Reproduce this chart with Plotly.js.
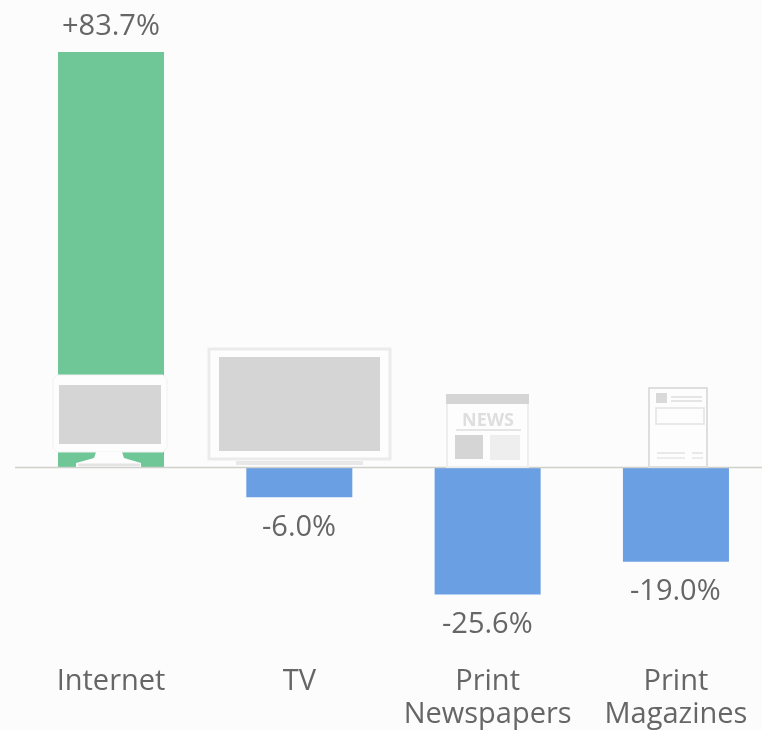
<!DOCTYPE html>
<html>
<head>
<meta charset="utf-8">
<script src="https://cdn.plot.ly/plotly-3.0.1.min.js"></script>
<style>html,body{margin:0;padding:0;background:#fcfcfc;overflow:hidden}#chart{filter:blur(0.7px)}</style>
</head>
<body>
<div id="chart" style="width:762px;height:730px"></div>
<script>
const categories = ["Internet", "TV", "Print<br>Newspapers", "Print<br>Magazines"];
const changes = [83.7, -6.0, -25.6, -19.0];
const labels = ["+83.7%", "-6.0%", "-25.6%", "-19.0%"];
const barColors = ["#6fc697", "#6a9fe4", "#6a9fe4", "#6a9fe4"];

const W = 762, H = 730, PLOT_H = 660;
const px = x => x / W;
const py = y => 1 - y / PLOT_H;
const GRAY = "#d5d5d5", LIGHT = "#ebebeb", WHITE = "#fdfdfd";
const TEXT = "#666666";

function rect(x0, y0, x1, y1, fill, line, lw) {
  return {type: "rect", xref: "paper", yref: "paper", x0: px(x0), x1: px(x1), y0: py(y1), y1: py(y0),
    fillcolor: fill || "rgba(0,0,0,0)", line: {color: line || "rgba(0,0,0,0)", width: lw || 0}, layer: "above"};
}
function seg(x0, y, x1, color, lw) {
  return {type: "line", xref: "paper", yref: "paper", x0: px(x0), x1: px(x1), y0: py(y), y1: py(y),
    line: {color: color, width: lw}, layer: "above"};
}
function path(points, fill, line) {
  const d = points.map((p, i) => (i ? "L" : "M") + px(p[0]) + "," + py(p[1])).join(" ") + " Z";
  return {type: "path", xref: "paper", yref: "paper", path: d, fillcolor: fill,
    line: line ? {color: line, width: 1} : {width: 0}, layer: "above"};
}

const shapes = [
  // baseline
  seg(15, 467.5, 762, "#cfcfcc", 1.5),
  // monitor
  path([[57, 375], [163, 375], [167, 379], [167, 448], [163, 452], [57, 452], [53, 448], [53, 379]], WHITE, "#f1f1f1"),
  rect(59, 385, 161, 444, GRAY),
  path([[96, 452], [122, 452], [124, 458], [141, 463], [141, 467], [76, 467], [76, 463], [94, 458]], WHITE),
  seg(78, 465, 140, "#e4e4e4", 3),
  // TV
  rect(209, 349, 390, 459, WHITE, LIGHT, 3),
  rect(219, 357, 380, 451, GRAY),
  seg(236, 463, 363, "#e8e8e8", 4),
  // newspaper
  rect(447, 395, 528, 467, WHITE, "#eeeeee", 2),
  rect(446, 394, 529, 404, GRAY),
  seg(456, 430, 521, "#dddddd", 1.5),
  rect(455, 435, 483, 459, GRAY),
  rect(490, 435, 520, 460, "#eeeeee"),
  // magazine
  rect(649, 388, 707, 467, WHITE, "#dedede", 2),
  rect(656, 393, 667, 403, "#d9d9d9"),
  seg(671, 397, 702, "#dddddd", 1.5),
  seg(671, 401, 702, "#dddddd", 1.5),
  rect(656, 408, 704, 424, WHITE, "#e2e2e2", 1.5),
  seg(657, 453, 685, "#e2e2e2", 1.5),
  seg(692, 453, 703, "#e2e2e2", 1.5),
  seg(657, 458, 685, "#e6e6e6", 1.5),
  seg(692, 458, 703, "#e6e6e6", 1.5)
];

const annotations = changes.map((v, i) => ({
  x: i, y: v, xref: "x", yref: "y", text: labels[i], showarrow: false,
  yshift: v >= 0 ? 29 : -27, yanchor: "middle", xanchor: "center",
  font: {family: "Open Sans", size: 29, color: TEXT}
}));
annotations.push({
  x: px(488), y: py(419), xref: "paper", yref: "paper", text: "<b>NEWS</b>", showarrow: false,
  font: {family: "Open Sans", size: 18, color: "#dedede"}
});

Plotly.newPlot("chart", [{
  type: "bar",
  x: [0, 1, 2, 3],
  y: changes,
  width: 0.563,
  marker: {color: barColors, line: {width: 0}},
  hoverinfo: "skip"
}], {
  width: W, height: H,
  margin: {l: 0, r: 0, t: 0, b: H - PLOT_H, pad: 0},
  paper_bgcolor: "#fcfcfc",
  plot_bgcolor: "#fcfcfc",
  showlegend: false,
  xaxis: {
    range: [-0.5895, 3.457],
    tickmode: "array",
    tickvals: [0, 1, 2, 3],
    ticktext: categories,
    ticks: "",
    ticklen: 0,
    showgrid: false,
    zeroline: false,
    showline: false,
    automargin: false,
    tickfont: {family: "Open Sans", size: 29, color: TEXT}
  },
  yaxis: {
    range: [-38.78, 94.18],
    visible: false,
    showgrid: false,
    zeroline: false
  },
  shapes: shapes,
  annotations: annotations
}, {displayModeBar: false, staticPlot: true}).then(gd => {
  gd.querySelectorAll(".xtick text tspan.line").forEach(t => {
    if (t.getAttribute("dy") && parseFloat(t.getAttribute("dy")) > 0) t.setAttribute("dy", "1.13em");
  });
});
</script>
</body>
</html>
